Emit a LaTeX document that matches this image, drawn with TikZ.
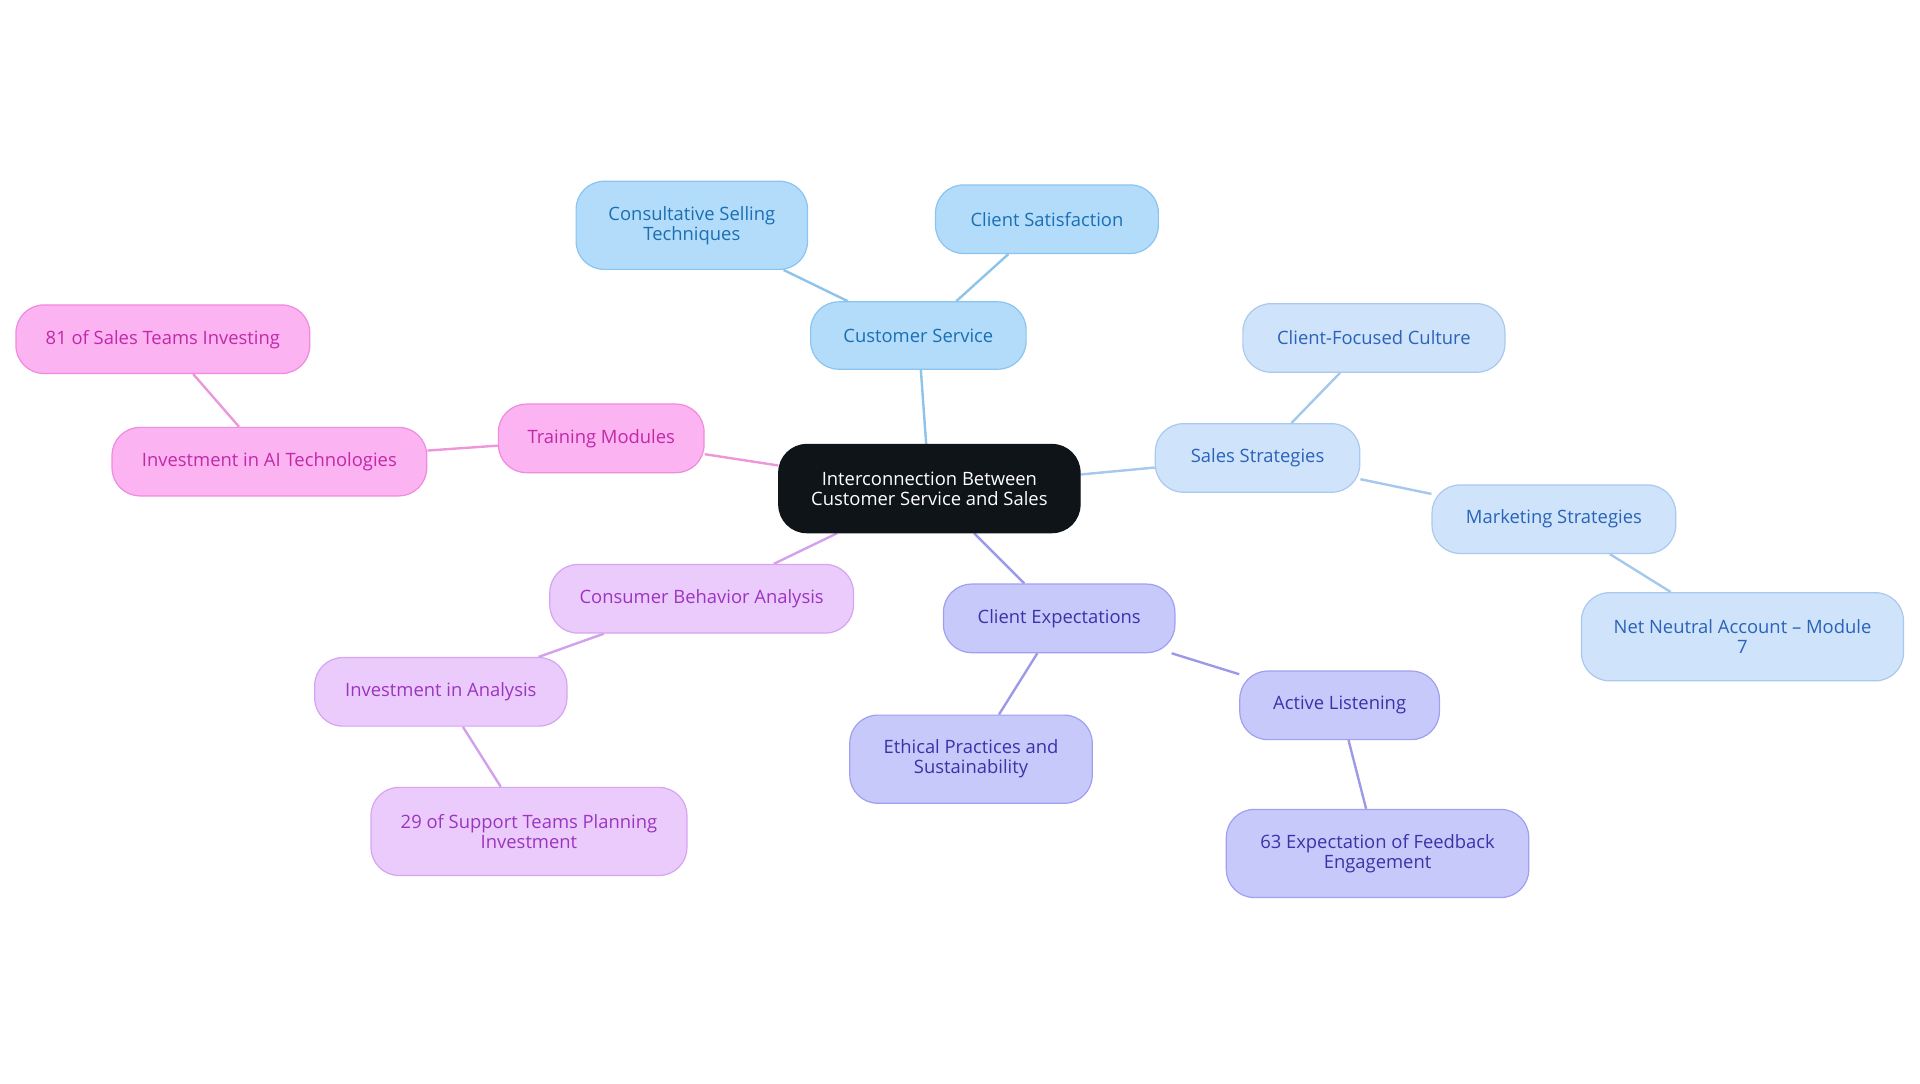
\documentclass[tikz,border=0pt]{standalone}
\usepackage{fontspec}
\setmainfont{Open Sans}
\usetikzlibrary{backgrounds}
\definecolor{cF}{HTML}{B3DCFB}\definecolor{cD}{HTML}{8CC4EF}\definecolor{cT}{HTML}{1A6FB3}
\definecolor{sF}{HTML}{CFE3FA}\definecolor{sD}{HTML}{A9C9EF}\definecolor{sT}{HTML}{2A63B8}
\definecolor{eF}{HTML}{C8C9FB}\definecolor{eD}{HTML}{A09FF0}\definecolor{eT}{HTML}{3A33A8}
\definecolor{bF}{HTML}{EBCBFB}\definecolor{bD}{HTML}{D6A4F0}\definecolor{bT}{HTML}{9B35C0}
\definecolor{tF}{HTML}{FCB3F1}\definecolor{tD}{HTML}{F08AE0}\definecolor{tT}{HTML}{C02AA8}
\definecolor{lc}{HTML}{8EC3EA}\definecolor{ls}{HTML}{A6C8EC}\definecolor{le}{HTML}{9C9AE6}
\definecolor{lb}{HTML}{D3A1EC}\definecolor{lt}{HTML}{EC97D9}
\definecolor{dark}{HTML}{0F1419}
\begin{document}
\begin{tikzpicture}[x=0.6122pt,y=-0.6122pt,
 box/.style={rounded corners=14pt,line width=0.6pt,align=center,font=\fontsize{9.2}{10}\selectfont,inner sep=0pt},
 cs/.style={box,fill=cF,draw=cD,text=cT},
 ss/.style={box,fill=sF,draw=sD,text=sT},
 es/.style={box,fill=eF,draw=eD,text=eT},
 bs/.style={box,fill=bF,draw=bD,text=bT},
 ts/.style={box,fill=tF,draw=tD,text=tT},
 ed/.style={line width=1.2pt}]
\useasboundingbox (0,0) rectangle (1568,884.5);
\newcommand{\bx}[6]{\node[#1,minimum width=#4*0.6122pt,minimum height=#5*0.6122pt] (#2) at #3 {#6};}
\bx{box,fill=dark,draw=dark,text=white}{c}{(759,399)}{246}{72}{Interconnection Between\\Customer Service and Sales}
\bx{cs}{cus}{(750,274)}{176}{55}{Customer Service}
\bx{cs}{con}{(565,184)}{189}{72}{Consultative Selling\\Techniques}
\bx{cs}{sat}{(855,179)}{182}{56}{Client Satisfaction}
\bx{ss}{sal}{(1027,374)}{167}{56}{Sales Strategies}
\bx{ss}{cul}{(1122,276)}{214}{56}{Client-Focused Culture}
\bx{ss}{mar}{(1269,424)}{199}{56}{Marketing Strategies}
\bx{ss}{net}{(1423,520)}{263}{72}{Net Neutral Account – Module\\7}
\bx{es}{exp}{(865,505)}{189}{56}{Client Expectations}
\bx{es}{eth}{(793,620)}{198}{72}{Ethical Practices and\\Sustainability}
\bx{es}{act}{(1094,576)}{163}{56}{Active Listening}
\bx{es}{six}{(1125,697)}{247}{72}{63 Expectation of Feedback\\Engagement}
\bx{bs}{beh}{(573,489)}{248}{56}{Consumer Behavior Analysis}
\bx{bs}{ina}{(360,565)}{206}{56}{Investment in Analysis}
\bx{bs}{two}{(432,679)}{258}{72}{29 of Support Teams Planning\\Investment}
\bx{ts}{tra}{(491,358)}{168}{56}{Training Modules}
\bx{ts}{ai}{(220,377)}{257}{56}{Investment in AI Technologies}
\bx{ts}{eig}{(133,277)}{240}{56}{81 of Sales Teams Investing}
\begin{scope}[on background layer]
\draw[ed,lc] (c)--(cus) (cus)--(con) (cus)--(sat);
\draw[ed,ls] (c)--(sal) (sal)--(cul) (sal)--(mar) (mar)--(net);
\draw[ed,le] (c)--(exp) (exp)--(eth) (exp)--(act) (act)--(six);
\draw[ed,lb] (c)--(beh) (beh)--(ina) (ina)--(two);
\draw[ed,lt] (c)--(tra) (tra)--(ai) (ai)--(eig);
\end{scope}
\end{tikzpicture}
\end{document}
